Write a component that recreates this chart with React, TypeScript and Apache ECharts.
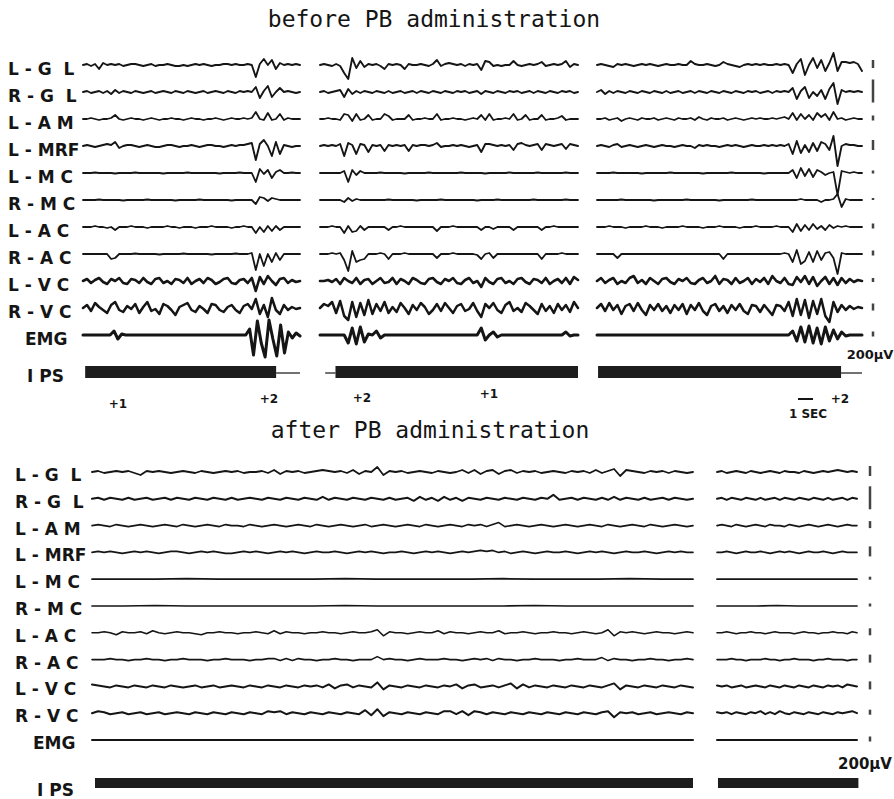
import React, { useEffect, useRef } from "react";
import * as echarts from "echarts";

// ---------- labels & annotations ----------
const channelLabels = ["L - G  L", "R - G  L", "L - A M", "L - MRF", "L - M C", "R - M C", "L - A C", "R - A C", "L - V C", "R - V C", "EMG"];
const stimLabel = "I PS";
const titleBefore = "before PB administration";
const titleAfter = "after PB administration";
const flashMarks = [
  { text: "+1", x: 118, y: 404 },
  { text: "+2", x: 269, y: 399 },
  { text: "+2", x: 362, y: 398 },
  { text: "+1", x: 489, y: 394 },
  { text: "+2", x: 840, y: 399 },
];
const timeScaleLabel = "1 SEC";
const voltScaleLabel = "200\u00B5V";

// calibration bar heights (200 µV per channel), px on the record
const calBefore = [8, 23, 5, 10, 3, 2, 5, 5, 4, 7, 5];
const calAfter = [10, 23, 7, 10, 3, 3, 7, 8, 8, 5, 5];

// photic stimulation (IPS) on / off intervals, fraction of each segment
const ipsOnBefore = [[[0.01, 0.89]], [[0.06, 1.0]], [[0.004, 0.921]]];
const ipsOffBefore = [[[0.89, 1.0]], [[0.02, 0.06]], [[0.921, 1.0]]];
const ipsOnAfter = [[[0.005, 1.0]], [[0.007, 1.01]]];
const ipsOffAfter: number[][][] = [[], []];

// ---------- traces, before PB, segment 1 ----------
const beforeSeg1: number[][] = [
  [0,1,-1,1,-4,2,0,1,0,1,-1,0,1,1,0,-1,0,1,-1,0,0,1,0,-1,-1,0,-1,0,1,0,1,0,-1,0,0,1,1,0,1,0,0,1,0,-12,1,6,0,5,-4,2,0,1,0,1,0],
  [0,1,-1,0,1,-1,1,-2,2,-1,1,0,-1,1,0,-1,0,1,-1,0,1,0,-1,1,0,-1,1,0,-1,0,1,-1,0,1,0,-1,1,0,-1,1,0,1,0,5,-6,1,6,-5,0,4,0,1,0,-1,0],
  [0,0,1,0,-1,0,0,1,4,0,-1,0,1,0,0,-1,0,1,0,-1,0,0,1,0,0,-1,0,1,0,0,-1,0,0,1,0,-1,0,1,0,0,1,0,1,7,0,-1,6,-1,0,5,-1,1,0,0,0],
  [0,1,0,-1,0,1,2,1,4,-2,0,1,1,0,-1,0,1,0,-1,-1,0,1,1,0,-1,0,0,1,0,-1,0,1,1,0,0,-1,0,1,0,1,1,2,3,-14,2,6,0,-10,4,-8,1,0,-1,0,0],
  [0,0,0,0.5,0,0,0,0,-0.5,0,0,0,0,0.5,0,0,0,0,0,0,-0.5,0,0,0,0,0,0.5,0,0,0,0,0,0,0,-0.5,0,0,0,0,0.5,0,0,0,-9,4,-1,3,-5,1,3,0,0,0.5,0,0],
  [0,0,0,0,0.5,0,0,0,0,0,-0.5,0,0,0,0,0,0.5,0,0,0,0,0,0,-0.5,0,0,0,0,0,0.5,0,0,0,0,0,0,0,-0.5,0,0,0,0,0,-4,3,2,-1,2,1,0,0,0,0,0,0],
  [0,0,0,1,0,0,-1,0,-3,0,0,0,1,0,0,0,-1,0,0,0,0,1,0,0,-1,0,0,0,-1,0,0,0,1,0,0,0,0,-1,0,0,1,0,0,-6,0,-5,1,-4,1,-3,0,0,0,0,0],
  [0,0,0,0,0,0,0,-5,-4,0,0,0,0,0.5,0,0,0,0,0,-0.5,0,0,0,0,0,0.5,0,0,0,0,0,0,-0.5,0,0,0,0,0,0.5,0,0,0,1,-16,0,-12,0,-8,1,-6,0,0,0,0,0],
  [0,2,-2,1,3,-1,-3,2,0,3,-2,-3,2,1,-2,3,-1,-3,2,3,-2,0,-3,2,1,-2,3,-3,0,2,-2,3,1,-3,-1,2,3,-2,-3,1,2,-2,3,-10,4,-3,5,0,-4,2,3,-2,1,-1,0],
  [0,3,-3,5,1,-2,-5,3,6,-2,-4,2,-1,4,-5,1,6,-3,-1,-6,4,2,-2,-7,1,3,5,-2,-4,2,-1,-5,4,3,-2,-4,1,3,-2,-5,2,4,-1,9,-6,3,-9,10,-2,-6,3,-2,1,-1,0],
  [0,0,0,0,0,0,0,0,4,-4,1,0,0,0,0,0,0,0,0,0,0,0,0,0,0,0,0,0,0,0,0,0,0,0,0,0,0,0,0,0,0,0,0,6,-20,14,-8,-22,15,-4,-21,10,-18,3,-3,2,-1],
];

// ---------- traces, before PB, segment 2 ----------
const beforeSeg2: number[][] = [
  [0,1,0,-1,1,-1,-8,-14,7,-3,4,-2,1,0,1,-1,-4,1,0,1,0,-4,1,0,0,1,0,-1,1,5,-1,1,2,1,0,1,-1,1,0,1,-5,4,3,-1,0,-1,0,0,4,0,-1,0,1,0,1,3,-1,0,1,0,1,4,-2,1,0],
  [0,1,-1,0,1,2,-5,3,-2,1,-1,1,0,-1,1,0,-1,1,-1,0,1,-1,0,1,-1,1,0,-1,1,0,-1,1,0,-1,1,0,1,-1,0,1,-2,1,0,-1,1,0,-1,1,0,1,-1,0,1,-1,1,0,-1,1,0,-1,1,0,1,-1,0],
  [0,0,1,0,0,-1,5,4,-2,5,-1,0,4,-1,0,0,5,3,-1,0,0,0,4,-1,0,0,1,0,0,5,-1,0,0,1,0,0,-1,0,1,0,4,-1,5,-1,0,0,1,0,5,-1,0,4,-1,0,0,4,-1,0,0,1,3,-1,0,0,0],
  [0,1,0,1,0,2,-10,3,1,-8,2,1,-6,1,0,1,-5,1,0,1,0,1,-5,1,0,1,1,0,1,3,-1,0,0,1,0,1,0,-1,0,1,-6,2,2,1,0,1,0,1,-4,2,3,1,0,1,2,-4,2,1,0,1,2,-3,2,1,0],
  [0,0,0,0,0,0,2,-9,3,-2,2,0,0,0,0,0.5,0,0,0,0,0,-0.5,0,0,0,0,0,0.5,0,0,0,0,0,0,0,0.5,0,0,0,0,0,-0.5,0,0,0,0,0,0.5,0,0,0,0,0,0,0.5,0,0,0,0,0,0,0.5,0,0,0],
  [0,0,0,0,0,0,-2,2,-1,1,0,0,0,0,0,0,0,0.5,0,0,0,0,0,0,-0.5,0,0,0,0,0,0.5,0,0,0,0,0,0,0,0,-0.5,0,0,0,0,0.5,0,0,0,0,0,0,0,0,0.5,0,0,0,0,0,0,0,0.5,0,0,0],
  [0,0,0,1,0,0,-6,1,-5,-4,1,-3,0,0,0,0,0,-3,0,0,1,0,0,0,0,0,0,0,0,-4,0,0,0,1,0,0,0,0,0,0,-3,0,0,-2,0,0,0,0,-3,0,0,0,0,0,0,-3,0,0,1,0,0,0,0,0,0],
  [0,0,0,1,0,1,-6,-17,3,-8,-6,-5,0,0,0,1,0,-5,0,0,0,1,0,0,0,0,0,0,0,-4,0,0,0,1,0,0,0,0,0,-1,-5,0,1,-4,0,0,0,0,0,0,0,0,0,0,0,-5,0,0,0,0,1,0,0,0,0],
  [0,0,1,-1,2,-3,3,0,-2,3,-3,1,2,-3,0,3,-2,-1,3,-3,2,0,-3,3,1,-2,-3,2,3,-1,-3,2,0,3,-2,-3,1,3,-2,0,-6,3,-1,-3,2,3,-2,0,-3,2,3,-1,-3,2,1,-2,3,-3,0,2,-2,3,-3,4,1],
  [0,4,2,6,-5,7,-8,-12,6,-9,5,-7,8,-6,4,-3,6,-5,1,-4,5,0,-6,3,-2,5,1,-6,-2,4,-3,5,0,-5,2,4,-3,-1,5,-3,-9,4,0,5,-2,-5,3,6,-3,0,-4,5,2,-2,-6,4,-3,2,-5,4,-2,3,-4,6,0],
  [0,0,0,0,0,0,0,-8,7,-9,8,-7,1,0,4,-3,0,0,0,0,0,0,0,0,0,0,0,0,0,0,0,0,0,0,0,0,0,0,0,0,7,-5,0,3,-2,0,0,0,0,0,0,0,0,0,0,0,0,0,0,0,0,3,-1,0,0],
];

// ---------- traces, before PB, segment 3 ----------
const beforeSeg3: number[][] = [
  [0,1,0,-1,-2,1,0,1,0,-1,0,1,0,1,0,-1,0,1,0,0,1,0,0,4,1,0,0,1,0,-1,0,3,1,0,-1,-2,0,1,0,1,0,1,0,0,1,0,1,0,-8,1,6,-10,0,7,-3,5,-6,2,12,-6,3,3,2,3,1,-6],
  [0,2,-2,1,-1,1,0,-1,1,0,-1,1,0,-1,1,0,-1,1,-1,0,1,-1,0,1,-1,1,0,-1,1,0,-1,1,0,-1,1,0,-1,1,0,1,-1,0,1,-1,1,0,1,0,4,-7,1,5,-6,0,-4,2,-7,3,9,-12,2,0,1,0,1,0],
  [0,0,1,-1,0,1,-2,0,1,0,-1,1,0,0,1,-1,0,1,0,-1,1,0,0,1,-1,2,0,-1,1,0,0,1,-1,0,1,0,-1,0,1,0,1,0,0,1,0,1,2,0,6,-1,5,0,4,-1,6,2,5,-1,7,0,1,-1,0,1,0,0],
  [0,1,0,-1,1,2,-1,0,1,0,-1,0,1,0,-1,0,1,0,0,-1,0,1,0,0,-2,1,0,1,0,0,-1,0,1,0,1,0,-1,0,1,0,0,1,0,1,0,1,0,2,-8,5,-7,1,-6,3,-5,4,2,-4,10,-20,0,2,1,1,0,0],
  [0,0,0,0,0.5,0,0,0,0,0,0,-0.5,0,0,0,0,0,0,0.5,0,0,0,0,0,0,0,-0.5,0,0,0,0,0,0,0.5,0,0,0,0,0,0,0,-0.5,0,0,0,0,0,0,3,-5,5,-3,4,-4,3,1,-2,0,1,-22,2,1,0,1,0,0],
  [0,0,0,0,0,0,0.5,0,0,0,0,0,0,0,-0.5,0,0,0,0,0,0,0,0.5,0,0,0,0,0,0,0,-0.5,0,0,0,0,0,0,0,0.5,0,0,0,0,0,0,0,0,0,0,0,1,0,0,0,0,-2,0,0,1,6,-7,1,0,0,0,0],
  [0,0,0,1,0,0,0,-1,0,0,0,0,1,0,0,0,-1,0,0,0,0,1,0,0,0,0,-1,0,0,0,1,0,0,0,0,-1,0,0,0,1,0,0,0,0,1,0,0,0,-5,3,-4,2,-3,3,-2,1,-3,2,-1,1,0,1,0,0,0,0],
  [0,0,0,0,0,-4,0,0,0,0,0,0,0,0,0,0,0,0,0,0,0,0,0,0,0,0,0,0,0,0,0,-5,0,0,0,0,0,0,0,0,0,0,0,0,0,0,1,0,-8,4,-10,-7,2,-8,3,-6,1,2,-4,-20,1,0,0,0,0,0],
  [0,3,-2,1,3,-3,0,-2,3,5,-2,1,-3,3,0,-3,2,3,-1,-3,2,0,3,-2,-3,1,3,-2,0,5,-3,2,1,-3,3,-2,0,3,-3,2,-1,3,-3,5,0,-2,3,-3,-4,4,-1,5,-3,4,-5,0,4,-3,3,-4,3,-2,2,-1,1,0],
  [0,4,-3,5,-2,3,-6,2,4,-3,5,-2,-7,3,-2,4,-3,2,-5,3,-2,4,-6,3,-2,5,-3,-7,2,4,-3,2,-5,3,-2,4,-3,-6,3,2,-4,3,-2,-7,3,2,-3,6,-8,9,-7,8,-10,7,-6,9,-8,-14,6,-4,3,-2,2,-1,1,0],
  [0,0,0,0,0,0,0,0,0,0,0,0,0,0,0,0,0,0,0,0,0,0,0,0,0,0,0,0,0,0,0,0,0,0,0,0,0,0,0,0,0,0,0,0,0,0,0,0,4,-6,8,-7,9,-8,7,-9,8,-6,5,-4,3,-1,0,0,0,0],
];

// ---------- traces, after PB, segment 1 ----------
const afterSeg1: number[][] = [
  [0,1,-1,0,1,0,1,-1,-3,1, 0,1,0,-1,0,1,0,-1,1,0, -1,0,1,0,1,-1,0,0,1,-1, 2,-2,1,0,1,-1,0,1,2,1, 0,1,-1,2,-2,1,0,5,-3,1, 0,1,-1,0,1,0,-1,1,0,-1, 0,2,-1,2,-2,1,2,-2,1,2, -1,1,0,1,-1,0,1,0,-1,1, 0,1,-1,2,-1,1,3,-4,2,1, 0,-1,1,0,1,-1,1,0,-1,0],
  [0,1,-1,1,0,-1,1,-1,0,1, -1,0,1,-1,1,0,-1,1,0,-1, 1,0,-1,1,-1,0,1,0,-1,1, 0,-1,1,0,-1,1,0,-1,2,-1, 1,0,-1,1,0,-1,1,0,-1,1, -1,0,1,-2,2,-1,1,-2,2,-1, 1,-2,1,0,-1,1,0,-1,1,0, -1,1,0,-1,1,0,4,-1,0,1, -1,1,0,-1,1,-1,2,-1,1,0, -1,1,-1,0,1,-1,1,0,-1,0],
  [0,1,0,-1,1,0,-1,0,1,0, -1,0,1,0,-1,1,0,-1,0,1, 0,-1,1,0,0,-1,1,0,-1,0, 1,0,-1,0,1,0,-1,1,0,-1, 0,1,0,-1,0,1,-1,0,1,0, -1,0,1,0,-1,1,0,-1,0,1, 0,-1,1,0,1,-1,1,3,-1,0, 1,0,-1,0,1,0,-1,0,1,0, -1,0,1,0,-1,1,0,-1,0,1, 0,-1,1,0,-1,0,1,0,-1,0],
  [0,1,0,1,0,-1,0,1,0,1, 0,-1,0,1,1,0,-1,0,1,0, 1,0,-1,-1,0,1,0,1,0,-1, 0,1,0,1,0,-1,0,1,0,0, 1,0,-1,0,1,0,1,0,-1,0, 0,1,0,-1,0,1,0,1,0,-1, 0,1,0,1,2,1,2,0,1,-1, 0,1,0,-1,0,1,0,0,1,0, -1,0,1,0,1,0,-1,0,1,0, 0,1,0,-1,0,1,0,1,0,0],
  [0,0,0,0.5,0,0,0,0,0.5,0,0,0,0,0.5,0,0,0,0.5,0,0],
  [0,0,0.5,0,0,0,0,0,0.5,0,0,0,0,0,0.5,0,0,0,0,0],
  [0,0,1,0,-2,1,0,0,1,-1, 2,0,-1,0,1,0,0,-1,-2,0, 0,1,0,0,-1,0,0,1,0,-1, 2,-1,1,0,0,-1,0,0,1,0, 0,-1,0,1,0,0,1,3,-3,1, 0,0,-1,0,1,0,0,2,-1,1, 0,0,-1,0,1,0,0,2,-1,0, 0,1,0,-1,0,0,1,0,0,-1, 0,1,0,-1,0,3,-3,1,0,1, 0,-1,0,1,0,0,-1,0,1,0],
  [0,0,0,1,0,0,-1,0,0,1, 0,0,-1,0,0,1,0,0,0,-1, 0,0,1,0,0,0,-1,0,0,1, 1,-1,1,-1,1,0,0,-1,0,0, 1,0,0,-1,0,0,0,3,0,1, 0,0,-1,0,1,0,0,0,1,0, 0,-1,0,1,0,1,-1,1,0,0, -1,0,0,1,0,0,0,-1,0,0, 1,0,0,0,2,-1,1,0,0,-1, 0,0,1,0,0,-1,0,0,1,0],
  [2,1,0,-1,1,0,-1,1,0,-1, 1,0,-1,1,0,-1,0,1,-1,0, 1,-1,0,1,0,-1,1,0,-1,1, 0,-1,1,0,-1,1,0,1,-1,2, -2,1,2,-1,1,0,-1,4,-3,1, 0,-1,1,0,-1,1,0,-1,1,0, 2,-2,1,2,-1,0,1,-1,1,3, -2,2,-1,1,0,-1,1,0,-1,1, 0,-1,1,0,-1,1,3,-3,1,0, -1,1,0,-1,1,0,-1,1,0,-1],
  [0,2,1,-1,0,1,-1,0,1,-1, 0,1,-1,0,1,0,-1,1,0,-1, 1,0,-1,1,0,-1,1,0,-1,2, 1,2,-1,1,0,-1,1,0,-1,1, 0,-1,1,0,-1,3,-2,4,-3,1, 0,-1,1,0,-1,1,0,-1,2,2, -1,2,-2,2,1,-1,1,0,-1,1, 0,-1,1,0,-1,1,0,-1,1,0, -1,1,0,-1,1,2,-4,1,0,1, -1,0,1,-1,0,1,0,-1,1,0],
  [0,0],
];

// ---------- traces, after PB, segment 2 ----------
const afterSeg2: number[][] = [
  [0,1,-1,0,1,0,-1,1,0,-1,0,1,0,-1,1,0,0,-1,1,0,-1,0,1,0,1,2,1,0,1,0],
  [0,1,-1,1,0,-1,1,0,-1,1,-1,0,1,-1,1,0,-1,1,0,-1,1,0,-1,1,-1,0,1,-1,1,0],
  [0,1,0,-1,1,0,-1,0,1,0,-1,1,0,0,-1,1,0,-1,0,1,0,-1,0,1,0,-1,0,1,0,0],
  [0,0,1,0,-1,0,1,0,0,1,0,-1,0,1,0,1,0,-1,0,1,0,0,1,0,-1,0,1,0,0,0],
  [0,0],
  [0,0,0,0.5,0,0,0,0],
  [0,0,1,0,-1,0,0,1,0,0,-1,0,1,0,0,0,-1,0,1,0,0,-1,0,0,1,0,0,-1,1,0],
  [0,0,0,1,0,0,-1,0,0,0,1,0,0,-1,0,0,1,0,0,0,-1,0,0,1,0,0,0,-1,0,0],
  [1,0,1,-1,0,1,-1,0,1,0,-1,1,0,-1,1,0,-1,1,0,-1,1,0,-1,1,0,1,-1,2,1,0],
  [1,0,1,-1,1,0,-1,1,0,2,-1,1,-1,2,0,-1,1,0,-1,1,0,-1,1,0,-1,1,0,1,2,0],
  [0,0],
];

// ---------- layout ----------
const W = 894;
const H = 799;
const INK = "#151515";
const beforeRowY = (i: number) => 65 + 27 * i;
const afterRowY = (i: number) => 472 + 26.8 * i;
const beforeIpsY = 372;
const afterIpsY = 783;
const beforeWidths = [1.9, 1.9, 1.8, 1.9, 1.8, 1.8, 1.8, 1.8, 2.6, 2.5, 3.0];
const afterWidths = [1.8, 2.0, 1.6, 1.6, 1.7, 1.7, 1.6, 1.6, 2.0, 2.0, 2.0];

const panelGrids = [
  { left: 83, width: 217 },
  { left: 320, width: 258 },
  { left: 597, width: 265 },
  { left: 92, width: 601 },
  { left: 717, width: 140 },
  { left: 863, width: 20 },
  { left: 860, width: 20 },
];

function traceSeries(seg: number[][], gi: number, rowY: (i: number) => number, widths: number[]) {
  return seg.map((arr, ch) => ({
    type: "line",
    xAxisIndex: gi,
    yAxisIndex: gi,
    data: arr.map((v, j) => [j / (arr.length - 1), -rowY(ch) + v]),
    showSymbol: false,
    symbol: "none",
    silent: true,
    clip: false,
    lineStyle: { color: INK, width: widths[ch], join: "round", cap: "round" },
  }));
}

function ipsSeries(intervals: number[][], gi: number, y: number, width: number) {
  return intervals.map((iv) => ({
    type: "line",
    xAxisIndex: gi,
    yAxisIndex: gi,
    data: [[iv[0], -y], [iv[1], -y]],
    showSymbol: false,
    symbol: "none",
    silent: true,
    clip: false,
    lineStyle: { color: width > 3 ? "#1d1d1d" : INK, width, cap: "butt" },
  }));
}

function calSeries(cal: number[], gi: number, rowY: (i: number) => number) {
  return {
    type: "scatter",
    xAxisIndex: gi,
    yAxisIndex: gi,
    silent: true,
    symbol: "rect",
    data: cal.map((_, ch) => [0.5, -rowY(ch) + 1]),
    symbolSize: (_v: any, p: any) => [2.5, cal[p.dataIndex]],
    itemStyle: { color: INK },
  };
}

function buildOption() {
  const grid = panelGrids.map((g) => ({ left: g.left, width: g.width, top: 0, height: H }));
  const xAxis = panelGrids.map((_, i) => ({ gridIndex: i, type: "value", min: 0, max: 1, show: false }));
  const yAxis = panelGrids.map((_, i) => ({ gridIndex: i, type: "value", min: -H, max: 0, show: false }));

  const series: any[] = [];
  [beforeSeg1, beforeSeg2, beforeSeg3].forEach((seg, k) => {
    series.push(...traceSeries(seg, k, beforeRowY, beforeWidths));
    series.push(...ipsSeries(ipsOnBefore[k], k, beforeIpsY, 12));
    series.push(...ipsSeries(ipsOffBefore[k], k, beforeIpsY + 1, 1.2));
  });
  [afterSeg1, afterSeg2].forEach((seg, k) => {
    series.push(...traceSeries(seg, 3 + k, afterRowY, afterWidths));
    series.push(...ipsSeries(ipsOnAfter[k], 3 + k, afterIpsY, 10));
    series.push(...ipsSeries(ipsOffAfter[k], 3 + k, afterIpsY, 1.2));
  });
  series.push(calSeries(calBefore, 5, beforeRowY));
  series.push(calSeries(calAfter, 6, afterRowY));

  const labelFont = 'bold 17px "DejaVu Sans"';
  const txt = (text: string, x: number, y: number, font: string, align = "left") => ({
    type: "text",
    x,
    y,
    silent: true,
    style: {
      text,
      font,
      fill: INK,
      align,
      textAlign: align,
      verticalAlign: "middle",
      textVerticalAlign: "middle",
    },
  });

  const graphic: any[] = [];
  graphic.push(txt(titleBefore, 434, 19, '23px "DejaVu Sans Mono"', "center"));
  graphic.push(txt(titleAfter, 430, 430, '23px "DejaVu Sans Mono"', "center"));
  channelLabels.forEach((lab, i) => {
    const isEmg = i === channelLabels.length - 1;
    graphic.push(txt(lab, isEmg ? 25 : 8, beforeRowY(i) + 4, labelFont));
    graphic.push(txt(lab, isEmg ? 33 : 15, afterRowY(i) + 3, labelFont));
  });
  graphic.push(txt(stimLabel, 27, 376, labelFont));
  graphic.push(txt(stimLabel, 37, 790, labelFont));
  flashMarks.forEach((m) => graphic.push(txt(m.text, m.x, m.y, 'bold 12px "DejaVu Sans"', "center")));
  graphic.push(txt(timeScaleLabel, 808, 414, 'bold 12px "DejaVu Sans"', "center"));
  graphic.push({ type: "line", silent: true, shape: { x1: 798, y1: 399, x2: 813, y2: 399 }, style: { stroke: INK, lineWidth: 2 } });
  graphic.push(txt(voltScaleLabel, 870, 354, 'bold 13px "DejaVu Sans"', "center"));
  graphic.push(txt(voltScaleLabel, 865, 764, 'bold 15px "DejaVu Sans"', "center"));

  return {
    animation: false,
    backgroundColor: "#ffffff",
    grid,
    xAxis,
    yAxis,
    series,
    graphic,
  };
}

export default function App() {
  const ref = useRef<HTMLDivElement>(null);
  useEffect(() => {
    if (!ref.current) return;
    const chart = echarts.init(ref.current, undefined, { renderer: "svg" });
    chart.setOption(buildOption() as any);
    return () => chart.dispose();
  }, []);
  return <div ref={ref} style={{ position: "absolute", left: 0, top: 0, width: W, height: H, background: "#fff" }} />;
}
